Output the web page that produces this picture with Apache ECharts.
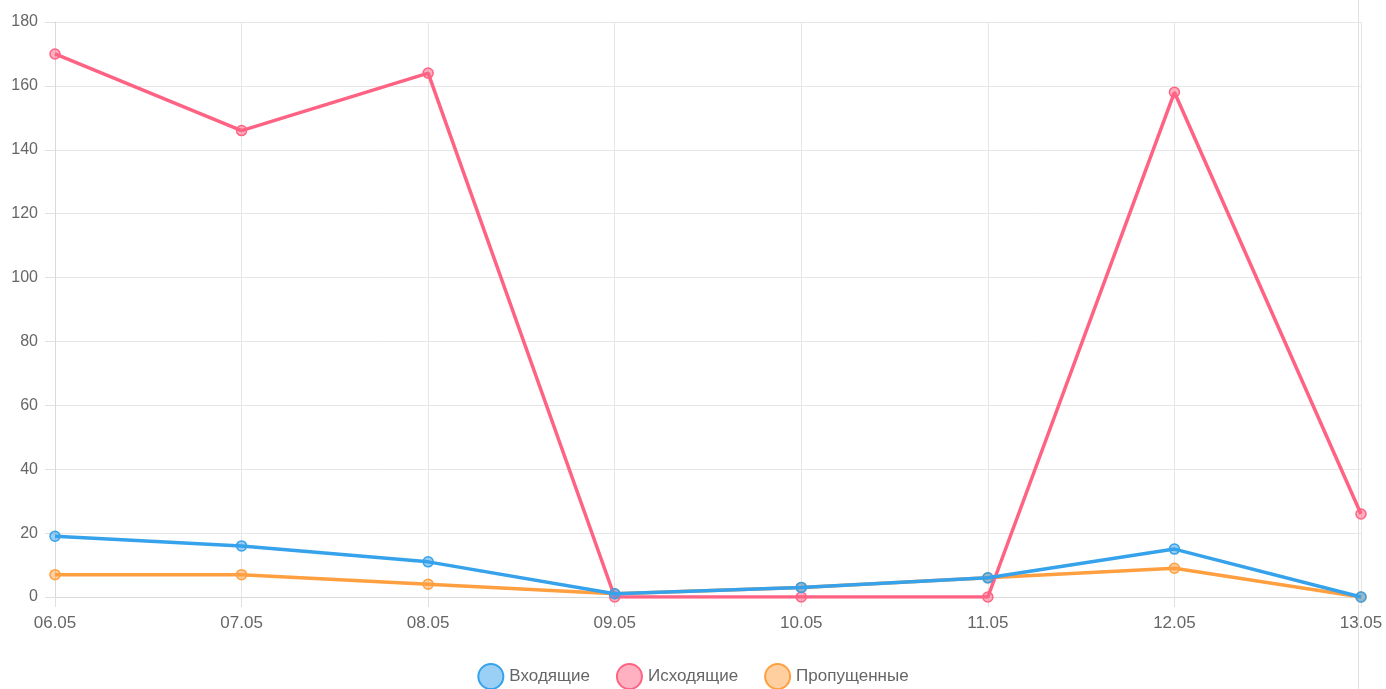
<!DOCTYPE html>
<html>
<head>
<meta charset="utf-8">
<script src="https://cdn.jsdelivr.net/npm/echarts@6/dist/echarts.min.js"></script>
<style>html,body{margin:0;padding:0;background:#fff}#c{width:1386px;height:689px}</style>
</head>
<body>
<div id="c"></div>
<script>
const categories = ['06.05','07.05','08.05','09.05','10.05','11.05','12.05','13.05'];
const incoming = [19, 16, 11, 1, 3, 6, 15, 0];
const outgoing = [170, 146, 164, 0, 0, 0, 158, 26];
const missed = [7, 7, 4, 1, 3, 6, 9, 0];
const seriesNames = ['Входящие', 'Исходящие', 'Пропущенные'];
const yTicks = {min: 0, max: 180, interval: 20};

const colors = ['rgb(54,162,235)', 'rgb(255,99,132)', 'rgb(255,159,64)'];
const fills = ['rgba(54,162,235,0.5)', 'rgba(255,99,132,0.5)', 'rgba(255,159,64,0.5)'];
const font = 'Liberation Sans, Arial, sans-serif';

function mk(i, data, z) {
  return {
    name: seriesNames[i], type: 'line', data: data, z: z,
    symbol: 'circle', symbolSize: 10,
    lineStyle: {color: colors[i], width: 3.5},
    itemStyle: {color: fills[i], borderColor: colors[i], borderWidth: 1.5},
    emphasis: {disabled: true}
  };
}

const chart = echarts.init(document.getElementById('c'));
chart.setOption({
  animation: false,
  grid: {left: 55, right: 25, top: 22, bottom: 92},
  legend: {
    top: 658, left: 'center', icon: 'circle', itemWidth: 25, itemHeight: 25, itemGap: 26,
    textStyle: {color: '#666', fontSize: 17, fontFamily: font, padding: [0, 0, 0, 1]},
    data: seriesNames.map((n, i) => ({name: n, itemStyle: {color: fills[i], borderColor: colors[i], borderWidth: 2}}))
  },
  xAxis: {
    type: 'category', data: categories, boundaryGap: false,
    axisLine: {lineStyle: {color: '#d9d9d9'}},
    axisTick: {show: true, length: 10, alignWithLabel: true, lineStyle: {color: '#e0e0e0'}},
    axisLabel: {color: '#666', fontSize: 17, fontFamily: font, margin: 18},
    splitLine: {show: true, lineStyle: {color: '#e6e6e6'}}
  },
  yAxis: {
    type: 'value', min: yTicks.min, max: yTicks.max, interval: yTicks.interval,
    axisLine: {show: true, lineStyle: {color: '#d9d9d9'}},
    axisTick: {show: true, length: 10, lineStyle: {color: '#e0e0e0'}},
    axisLabel: {color: '#666', fontSize: 16, fontFamily: font, margin: 17, padding: [2, 0, 0, 0]},
    splitLine: {show: true, lineStyle: {color: '#e6e6e6'}}
  },
  graphic: [{type: 'line', shape: {x1: 1358.5, y1: 0, x2: 1358.5, y2: 689}, style: {stroke: '#e0e0e0', lineWidth: 1}, silent: true}],
  series: [mk(2, missed, 2), mk(1, outgoing, 3), mk(0, incoming, 4)]
});
</script>
</body>
</html>
